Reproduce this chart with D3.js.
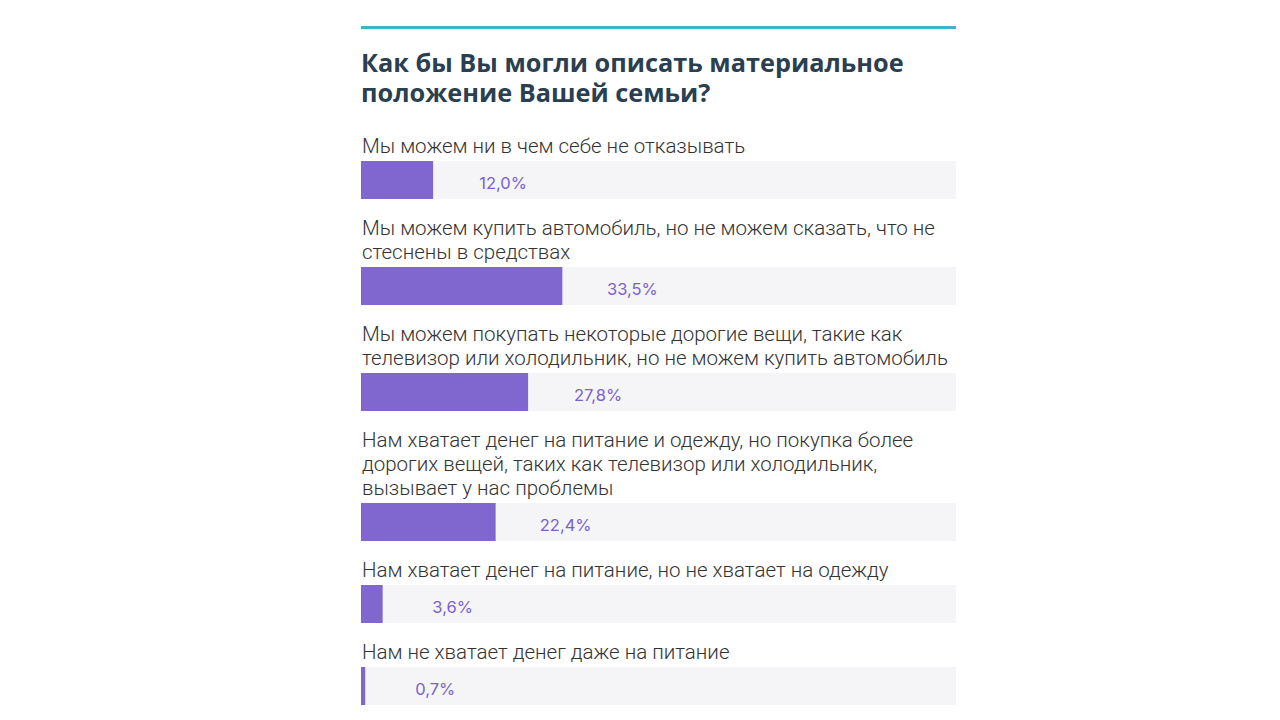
<!DOCTYPE html>
<html><head><meta charset="utf-8">
<script src="https://cdn.jsdelivr.net/npm/d3@7"></script>
<style>body{margin:0;background:#fff;}svg{display:block;}</style>
</head><body>
<svg id="c" width="1280" height="720"></svg>
<script>
const title = ["Как бы Вы могли описать материальное", "положение Вашей семьи?"];
const categories = [
  ["Мы можем ни в чем себе не отказывать"],
  ["Мы можем купить автомобиль, но не можем сказать, что не", "стеснены в средствах"],
  ["Мы можем покупать некоторые дорогие вещи, такие как", "телевизор или холодильник, но не можем купить автомобиль"],
  ["Нам хватает денег на питание и одежду, но покупка более", "дорогих вещей, таких как телевизор или холодильник,", "вызывает у нас проблемы"],
  ["Нам хватает денег на питание, но не хватает на одежду"],
  ["Нам не хватает денег даже на питание"]
];
const values = [12.0, 33.5, 27.8, 22.4, 3.6, 0.7];
const valueLabels = ["12,0%", "33,5%", "27,8%", "22,4%", "3,6%", "0,7%"];

const svg = d3.select("#c");
const left = 361, right = 956;
const x = d3.scaleLinear().domain([0, 99]).range([left, right]);

svg.append("rect").attr("x", left).attr("y", 26).attr("width", right - left).attr("height", 3).attr("fill", "#3cb6c6");

svg.append("text")
  .attr("font-family", "'Open Sans', sans-serif").attr("font-weight", 700)
  .attr("font-size", 25.3).attr("fill", "#2a3f50")
  .selectAll("tspan").data(title).join("tspan")
  .attr("x", left).attr("y", (d, i) => 72 + i * 30).text(d => d);

const lineH = 24, barH = 38;
let y = 152.5;
const layout = [];
categories.forEach((lines, i) => {
  const firstBase = y;
  const barTop = firstBase + (lines.length - 1) * lineH + 8.5;
  layout.push({lines, firstBase, barTop, v: values[i], lab: valueLabels[i]});
  y = barTop + barH + 35.5;
});

const g = svg.append("g").selectAll("g").data(layout).join("g");
g.append("rect").attr("x", left).attr("y", d => d.barTop).attr("width", right - left).attr("height", barH).attr("fill", "#f5f5f7");
g.append("rect").attr("x", left).attr("y", d => d.barTop).attr("width", d => x(d.v) - left).attr("height", barH).attr("fill", "#8066cf");
g.each(function(d) {
  d3.select(this).selectAll("text.lab").data(d.lines).join("text").attr("class", "lab")
    .attr("x", left + 1).attr("y", (l, j) => d.firstBase + j * lineH)
    .attr("font-family", "Roboto, sans-serif").attr("font-weight", 300)
    .attr("font-size", 20.5).attr("fill", "#333").text(l => l);
});
g.append("text").attr("x", d => x(d.v) + 70).attr("y", d => d.barTop + 28)
  .attr("text-anchor", "middle").attr("font-family", "Inter, sans-serif")
  .attr("font-size", 16.5).attr("fill", "#7a5fd1").text(d => d.lab);
</script>
</body></html>
